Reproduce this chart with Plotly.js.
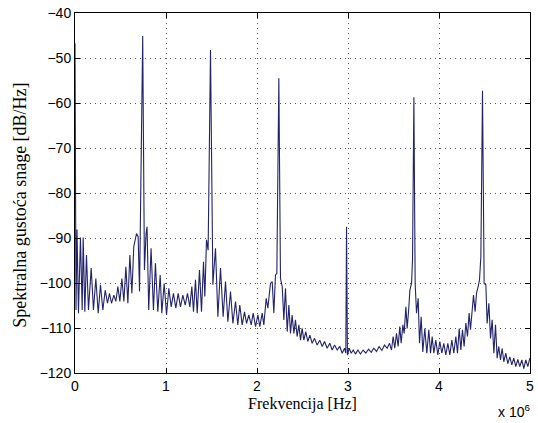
<!DOCTYPE html>
<html>
<head>
<meta charset="utf-8">
<script src="https://cdn.plot.ly/plotly-3.0.1.min.js"></script>
<style>html,body{margin:0;padding:0;background:#fff;}#chart{width:538px;height:423px;}</style>
</head>
<body>
<div id="chart"></div>
<script>
// Frequency in MHz (scaled to Hz below) and PSD in dB/Hz
const freqMHz = [
0.000,0.011,0.022,0.038,0.060,0.079,0.090,0.108,0.126,0.148,0.178,0.203,0.229,0.255,0.280,0.306,0.332,0.357,0.379,0.401,
0.427,0.449,0.471,0.493,0.515,0.537,0.559,0.581,0.603,0.625,0.646,0.676,0.694,0.709,0.744,0.763,0.781,0.792,0.810,0.836,
0.862,0.884,0.910,0.936,0.954,0.980,1.006,1.031,1.057,1.082,1.108,1.134,1.159,1.185,1.211,1.236,1.262,1.284,1.302,1.324,
1.343,1.368,1.390,1.412,1.427,1.445,1.463,1.489,1.515,1.544,1.570,1.599,1.628,1.654,1.680,1.709,1.735,1.764,1.789,1.811,
1.837,1.863,1.885,1.910,1.936,1.958,1.984,2.010,2.031,2.057,2.075,2.101,2.119,2.148,2.167,2.185,2.203,2.218,2.240,2.258,
2.277,2.295,2.313,2.332,2.350,2.368,2.386,2.405,2.423,2.441,2.460,2.478,2.496,2.515,2.536,2.558,2.581,2.606,2.632,2.661,
2.690,2.716,2.742,2.771,2.800,2.826,2.852,2.881,2.910,2.936,2.962,2.976,2.984,2.994,3.013,3.035,3.057,3.082,3.108,3.137,
3.166,3.196,3.225,3.255,3.284,3.313,3.342,3.372,3.401,3.430,3.456,3.478,3.496,3.514,3.533,3.551,3.569,3.584,3.603,3.617,
3.636,3.650,3.668,3.680,3.698,3.709,3.724,3.738,3.753,3.771,3.786,3.804,3.822,3.844,3.866,3.888,3.907,3.925,3.943,3.965,
3.987,4.009,4.031,4.053,4.075,4.097,4.119,4.141,4.163,4.185,4.203,4.222,4.240,4.258,4.276,4.295,4.313,4.331,4.346,4.361,
4.379,4.397,4.412,4.430,4.445,4.460,4.478,4.496,4.515,4.529,4.548,4.566,4.584,4.603,4.621,4.639,4.657,4.676,4.694,4.712,
4.734,4.756,4.778,4.800,4.822,4.844,4.866,4.888,4.910,4.932,4.954,4.976,4.998
];
const psdDb = [
-46.7,-106.0,-88.1,-106.7,-89.9,-106.0,-89.9,-106.4,-93.8,-106.0,-96.7,-106.0,-99.0,-106.7,-100.4,-106.0,-101.6,-104.5,-102.3,-104.5,
-102.7,-104.1,-100.8,-104.1,-99.0,-104.1,-96.4,-104.5,-93.8,-102.3,-91.9,-89.0,-89.7,-101.9,-45.1,-97.1,-89.0,-87.5,-106.0,-92.3,
-106.0,-95.6,-106.4,-98.2,-106.7,-100.1,-107.1,-101.2,-105.3,-102.3,-105.6,-102.3,-105.3,-102.7,-104.9,-102.3,-105.3,-100.8,-106.4,-99.3,
-106.7,-97.1,-106.4,-95.3,-103.0,-90.4,-92.7,-48.2,-100.4,-92.3,-107.5,-96.7,-107.5,-99.7,-108.6,-101.9,-109.0,-104.1,-109.3,-104.9,
-109.3,-106.4,-109.0,-107.1,-109.3,-106.7,-109.7,-107.1,-109.7,-106.7,-109.3,-103.4,-105.6,-100.1,-99.7,-106.7,-98.2,-97.9,-54.5,-99.0,
-100.8,-108.2,-101.2,-110.8,-104.9,-111.2,-107.1,-111.2,-108.2,-111.9,-109.3,-112.7,-110.1,-112.7,-110.8,-113.0,-111.6,-113.4,-112.3,-113.8,
-112.7,-114.1,-113.0,-114.5,-113.4,-114.9,-113.8,-114.9,-114.1,-115.6,-114.5,-115.6,-87.5,-116.0,-114.5,-115.6,-114.9,-115.8,-114.9,-115.8,
-114.9,-115.6,-114.7,-115.4,-114.5,-115.2,-114.1,-115.0,-113.8,-114.5,-113.4,-114.9,-111.9,-114.5,-111.2,-114.1,-109.7,-113.4,-109.3,-111.2,
-105.3,-110.1,-105.6,-101.6,-100.1,-94.9,-58.7,-100.1,-106.7,-103.4,-113.4,-107.5,-115.3,-110.1,-115.6,-110.4,-115.6,-111.9,-115.6,-112.7,
-116.0,-113.0,-115.6,-113.4,-116.0,-113.4,-116.0,-112.7,-115.6,-111.9,-115.6,-110.1,-114.9,-110.4,-114.1,-108.9,-111.9,-106.7,-110.4,-105.9,
-102.7,-106.4,-102.3,-100.8,-99.3,-94.1,-57.3,-100.1,-100.4,-109.0,-104.5,-112.3,-108.2,-115.6,-109.3,-116.7,-114.1,-117.1,-114.5,-117.5,
-115.6,-117.9,-116.4,-118.2,-116.7,-118.6,-117.0,-118.6,-117.1,-119.0,-117.1,-118.6,-116.7
];
const xTickVals = [0, 1, 2, 3, 4, 5];
const xTickText = ["0", "1", "2", "3", "4", "5"];
const yTickVals = [-120, -110, -100, -90, -80, -70, -60, -50, -40];

const xHz = freqMHz.map(v => v * 1e6);

const axisCommon = {
  showline: true, linecolor: '#000', linewidth: 1, mirror: 'allticks',
  ticks: 'inside', ticklen: 5, tickcolor: '#000', tickwidth: 1,
  showgrid: true, gridcolor: '#555', gridwidth: 1, griddash: '1px,4px',
  zeroline: false,
  tickfont: {family: 'Liberation Sans, Arial, sans-serif', size: 14, color: '#000'}
};

const layout = {
  width: 538, height: 423,
  margin: {l: 75, r: 8, t: 13, b: 50},
  paper_bgcolor: '#fff', plot_bgcolor: '#fff',
  showlegend: false,
  xaxis: Object.assign({}, axisCommon, {
    range: [0, 5e6], tickmode: 'array',
    tickvals: xTickVals.map(v => v * 1e6), ticktext: xTickText,
    title: {text: 'Frekvencija [Hz]', standoff: 5,
      font: {family: 'Liberation Serif, Times New Roman, serif', size: 16, color: '#000'}}
  }),
  yaxis: Object.assign({}, axisCommon, {
    range: [-120, -40], tickmode: 'array', tickvals: yTickVals
  }),
  annotations: [{
    text: 'x 10<sup>6</sup>', xref: 'paper', yref: 'paper', x: 1.005, y: -0.075,
    xanchor: 'right', yanchor: 'top', showarrow: false,
    font: {family: 'Liberation Sans, Arial, sans-serif', size: 14, color: '#000'}
  }, {
    text: 'Spektralna gustoća snage [dB/Hz]', xref: 'paper', yref: 'paper',
    x: -0.121, y: 0.467, xanchor: 'center', yanchor: 'middle', textangle: -90,
    showarrow: false,
    font: {family: 'Liberation Serif, Times New Roman, serif', size: 18, color: '#000'}
  }]
};

Plotly.newPlot('chart', [{
  x: xHz, y: psdDb, type: 'scatter', mode: 'lines',
  line: {color: '#23236c', width: 1.1}
}], layout, {displayModeBar: false, staticPlot: true});
</script>
</body>
</html>
